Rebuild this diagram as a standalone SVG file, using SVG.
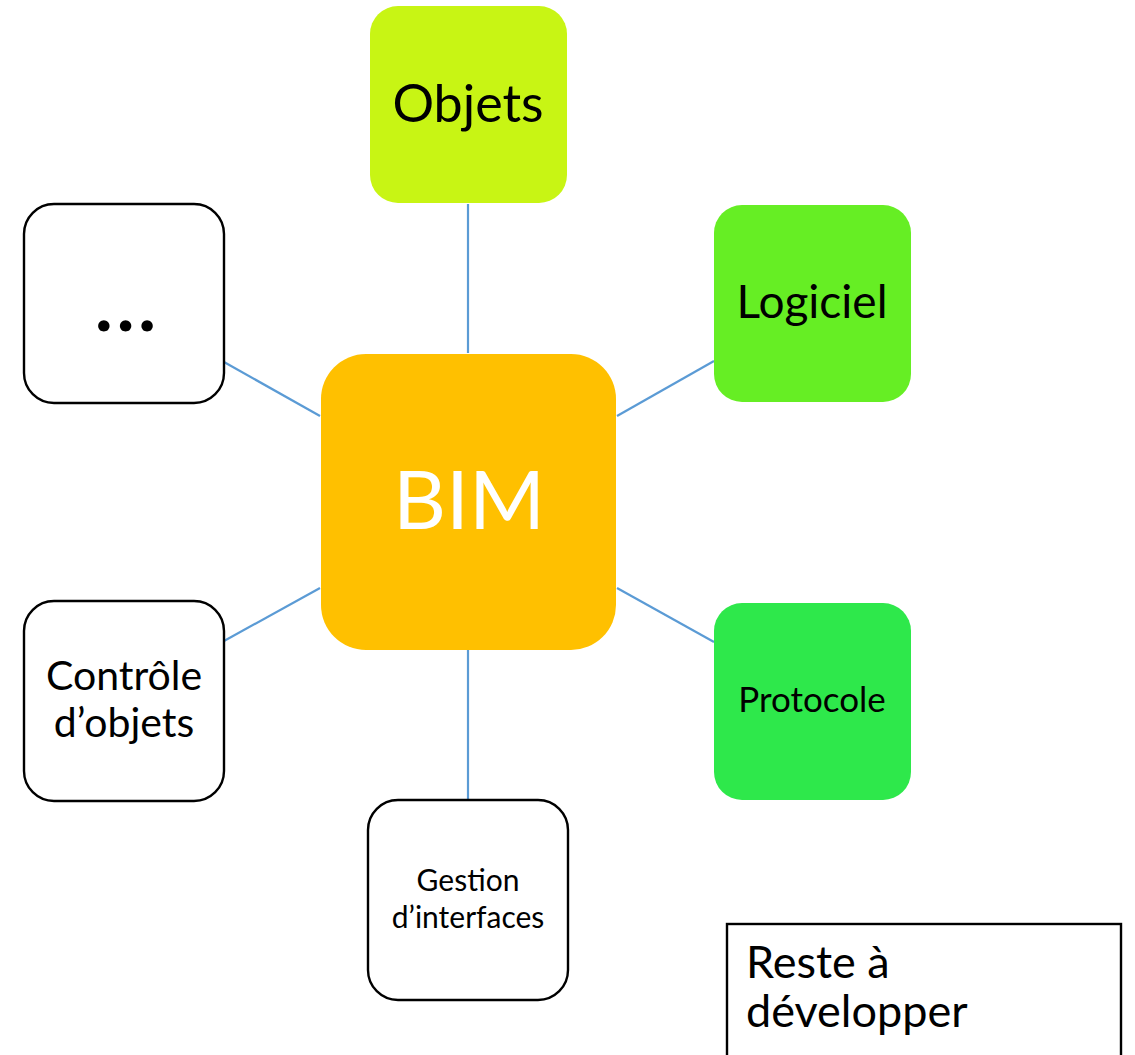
<svg xmlns="http://www.w3.org/2000/svg" width="1135" height="1055" viewBox="0 0 1135 1055">
<style>
.t{font-family:Lato,"Liberation Sans",sans-serif;fill:#000;text-anchor:middle}
.conn line{stroke:#5B9BD5;stroke-width:2.2}
.w{fill:#fff;stroke:#000;stroke-width:2.4}
</style>
<rect width="1135" height="1055" fill="#fff"/>
<g id="connectors" class="conn">
<line x1="468" y1="204" x2="468" y2="353"/>
<line x1="224" y1="362" x2="320" y2="416"/>
<line x1="714" y1="361" x2="617" y2="416"/>
<line x1="224" y1="641" x2="320" y2="588"/>
<line x1="617" y1="588" x2="714" y2="642"/>
<line x1="468" y1="650" x2="468" y2="799"/>
</g>
<g id="objets">
<rect x="370" y="6" width="197" height="197" rx="28" fill="#C8F514"/>
<text class="t" x="468" y="122" font-size="52">Objets</text>
</g>
<g id="logiciel">
<rect x="714" y="205" width="197" height="197" rx="28" fill="#66EE24"/>
<text class="t" x="812" y="318" font-size="46">Logiciel</text>
</g>
<g id="etc">
<rect class="w" x="24" y="204" width="200" height="199" rx="30"/>
<text class="t" x="128" y="331" font-size="70" font-weight="900" letter-spacing="5">...</text>
</g>
<g id="bim">
<rect x="321" y="354" width="295" height="296" rx="45" fill="#FFC000"/>
<text class="t" x="469" y="529" font-size="82" style="fill:#fff">BIM</text>
</g>
<g id="controle">
<rect class="w" x="24" y="601" width="200" height="200" rx="30"/>
<text class="t" x="124" y="690" font-size="41">Contrôle</text>
<text class="t" x="124" y="737" font-size="41">d’objets</text>
</g>
<g id="protocole">
<rect x="714" y="603" width="197" height="197" rx="28" fill="#2EE84B"/>
<text class="t" x="812" y="712" font-size="35">Protocole</text>
</g>
<g id="gestion">
<rect class="w" x="368" y="800" width="200" height="200" rx="30"/>
<text class="t" x="468" y="891" font-size="30">Gestion</text>
<text class="t" x="468" y="928" font-size="30">d’interfaces</text>
</g>
<g id="legende">
<rect x="727" y="924" width="394" height="140" fill="#fff" stroke="#000" stroke-width="2.4"/>
<text x="746" y="978" font-size="45" font-family="Lato,'Liberation Sans',sans-serif">Reste à</text>
<text x="746" y="1027" font-size="45" font-family="Lato,'Liberation Sans',sans-serif">développer</text>
</g>
</svg>
